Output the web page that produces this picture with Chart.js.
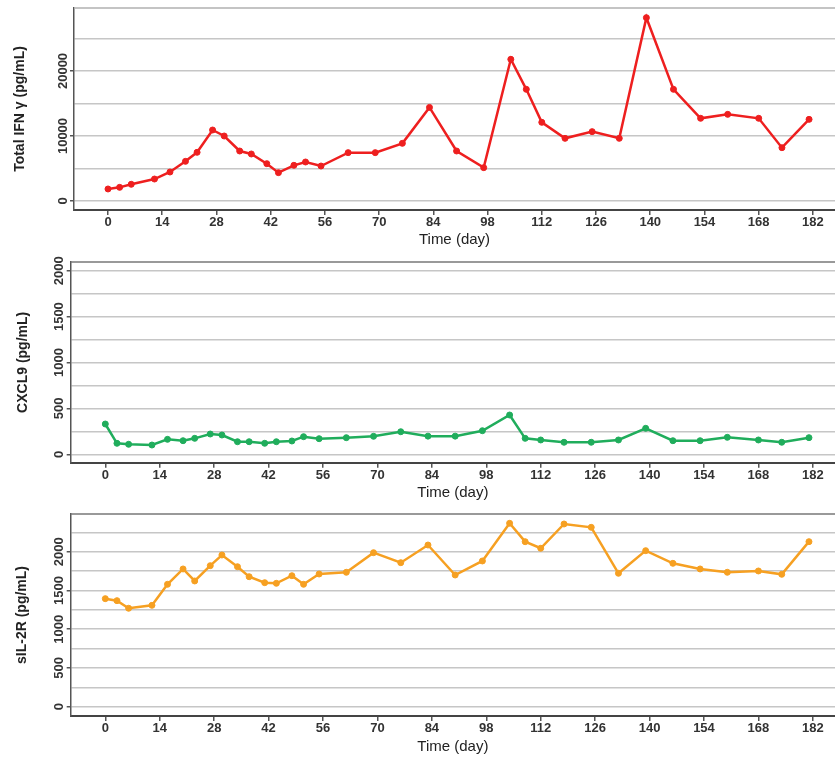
<!DOCTYPE html>
<html>
<head>
<meta charset="utf-8">
<script src="https://cdn.jsdelivr.net/npm/chart.js@4.4.0/dist/chart.umd.min.js"></script>
<style>
  body { margin: 0; background: #fff; }
  #wrap { position: relative; width: 835px; height: 757px; overflow: hidden; }
  .panel { position: absolute; left: 0; width: 835px; }
</style>
</head>
<body>
<div id="wrap">
  <div class="panel" style="top:0px;height:250px"><canvas id="ifnChart"></canvas></div>
  <div class="panel" style="top:250px;height:252px"><canvas id="cxclChart"></canvas></div>
  <div class="panel" style="top:502px;height:255px"><canvas id="il2Chart"></canvas></div>
</div>
<script>
// sampling days (same for all three panels)
const days = [0, 3, 6, 12, 16, 20, 23, 27, 30, 34, 37, 41, 44, 48, 51, 55, 62, 69, 76,
              83, 90, 97, 104, 108, 112, 118, 125, 132, 139, 146, 153, 160, 168, 174, 181];

const ifnGamma = [1850, 2100, 2570, 3380, 4460, 6100, 7490, 10920, 10000, 7690, 7230, 5740, 4360, 5490, 6000, 5380, 7440, 7440, 8870,
                  14400, 7690, 5130, 21800, 17180, 12100, 9640, 10670, 9640, 28200, 17180, 12720, 13330, 12720, 8200, 12560];

const cxcl9 = [330, 120, 109, 101, 163, 148, 174, 221, 210, 137, 137, 120, 137, 145, 192, 170, 181, 196, 246,
               198, 198, 257, 428, 174, 156, 131, 131, 156, 283, 148, 148, 185, 156, 131, 181];

const sil2r = [1394, 1368, 1270, 1308, 1579, 1777, 1622, 1819, 1957, 1806, 1677, 1600, 1592, 1690, 1579, 1712, 1734, 1987, 1858,
               2086, 1699, 1880, 2366, 2129, 2044, 2357, 2314, 1721, 2013, 1850, 1777, 1734, 1751, 1708, 2129];

const xTicks = [0, 14, 28, 42, 56, 70, 84, 98, 112, 126, 140, 154, 168, 182];

const ifnGrid = [0, 5000, 10000, 15000, 20000, 25000];
const ifnLabels = [0, 10000, 20000];
const cxclGrid = [0, 250, 500, 750, 1000, 1250, 1500, 1750, 2000];
const cxclLabels = [0, 500, 1000, 1500, 2000];
const il2Grid = [0, 250, 500, 750, 1000, 1250, 1500, 1750, 2000, 2250];
const il2Labels = [0, 500, 1000, 1500, 2000];

const FONT = "'Liberation Sans', Arial, sans-serif";

// draws rotated y tick labels and the top frame line
const panelDecor = {
    id: 'panelDecor',
    afterDraw(chart, args, opts) {
        const ctx = chart.ctx;
        const area = chart.chartArea;
        const y = chart.scales.y;
        ctx.save();
        ctx.strokeStyle = opts.topColor;
        ctx.lineWidth = 1.5;
        ctx.beginPath();
        ctx.moveTo(area.left, area.top);
        ctx.lineTo(area.right, area.top);
        ctx.stroke();

        ctx.fillStyle = '#333';
        ctx.font = 'bold 13px ' + FONT;
        ctx.textAlign = 'center';
        ctx.textBaseline = 'middle';
        opts.labels.forEach(v => {
            ctx.save();
            ctx.translate(area.left - 11, y.getPixelForValue(v));
            ctx.rotate(-Math.PI / 2);
            ctx.fillText(String(v), 0, 0);
            ctx.restore();
        });
        ctx.restore();
    }
};

function makeChart(id, cfg) {
    const ctx = document.getElementById(id).getContext('2d');
    return new Chart(ctx, {
        type: 'line',
        data: {
            datasets: [{
                data: days.map((d, i) => ({ x: d, y: cfg.values[i] })),
                borderColor: cfg.color,
                backgroundColor: cfg.color,
                borderWidth: 2.5,
                pointRadius: 3,
                pointBorderWidth: 1,
                pointHoverRadius: 3,
                tension: 0,
                fill: false
            }]
        },
        options: {
            responsive: true,
            maintainAspectRatio: false,
            animation: false,
            layout: { autoPadding: false, padding: { top: cfg.padTop, left: 0, right: 0, bottom: 0 } },
            plugins: {
                legend: { display: false },
                tooltip: { enabled: false },
                panelDecor: { labels: cfg.labels, topColor: cfg.topColor }
            },
            scales: {
                x: {
                    type: 'linear',
                    min: cfg.xMin,
                    max: 187.7,
                    afterBuildTicks: s => { s.ticks = xTicks.map(v => ({ value: v })); },
                    afterFit: s => { s.height = cfg.xHeight; },
                    grid: { drawOnChartArea: false, drawTicks: true, tickLength: 5, tickColor: '#555', lineWidth: 1.5 },
                    border: { display: true, color: '#444', width: 2 },
                    ticks: { color: '#333', font: { family: FONT, size: 13, weight: 'bold' }, padding: 0, maxRotation: 0, autoSkip: false },
                    title: { display: true, text: 'Time (day)', color: '#222', font: { family: FONT, size: 15 }, padding: { top: 0, bottom: cfg.titlePad } }
                },
                y: {
                    min: cfg.yMin,
                    max: cfg.yMax,
                    afterBuildTicks: s => { s.ticks = cfg.grid.map(v => ({ value: v })); },
                    afterFit: s => { s.width = cfg.yWidth; },
                    grid: {
                        color: '#c6c6c6',
                        lineWidth: 1.5,
                        drawTicks: true,
                        tickLength: 4,
                        tickColor: c => cfg.labels.includes(c.tick.value) ? '#555' : 'rgba(0,0,0,0)'
                    },
                    border: { display: true, color: '#555', width: 1.5 },
                    ticks: { display: false },
                    title: { display: true, text: cfg.title, color: '#222', font: { family: FONT, size: 14, weight: 'bold' }, padding: { top: cfg.yTitlePad, bottom: 0 } }
                }
            }
        },
        plugins: [panelDecor]
    });
}

makeChart('ifnChart', {
    values: ifnGamma, color: '#ee1f1f', title: 'Total IFN γ (pg/mL)',
    yMin: -1385, yMax: 29690, grid: ifnGrid, labels: ifnLabels,
    padTop: 8, xHeight: 40, titlePad: 1, yWidth: 74, yTitlePad: 12, xMin: -8.78, topColor: '#b0b0b0'
});

makeChart('cxclChart', {
    values: cxcl9, color: '#20ad5c', title: 'CXCL9 (pg/mL)',
    yMin: -91.5, yMax: 2095, grid: cxclGrid, labels: cxclLabels,
    padTop: 12, xHeight: 39.3, titlePad: 0, yWidth: 70.7, yTitlePad: 15, xMin: -8.9, topColor: '#777'
});

makeChart('il2Chart', {
    values: sil2r, color: '#f6a022', title: 'sIL-2R (pg/mL)',
    yMin: -120, yMax: 2486, grid: il2Grid, labels: il2Labels,
    padTop: 12, xHeight: 41, titlePad: 1, yWidth: 70.7, yTitlePad: 14, xMin: -8.9, topColor: '#777'
});
</script>
</body>
</html>
